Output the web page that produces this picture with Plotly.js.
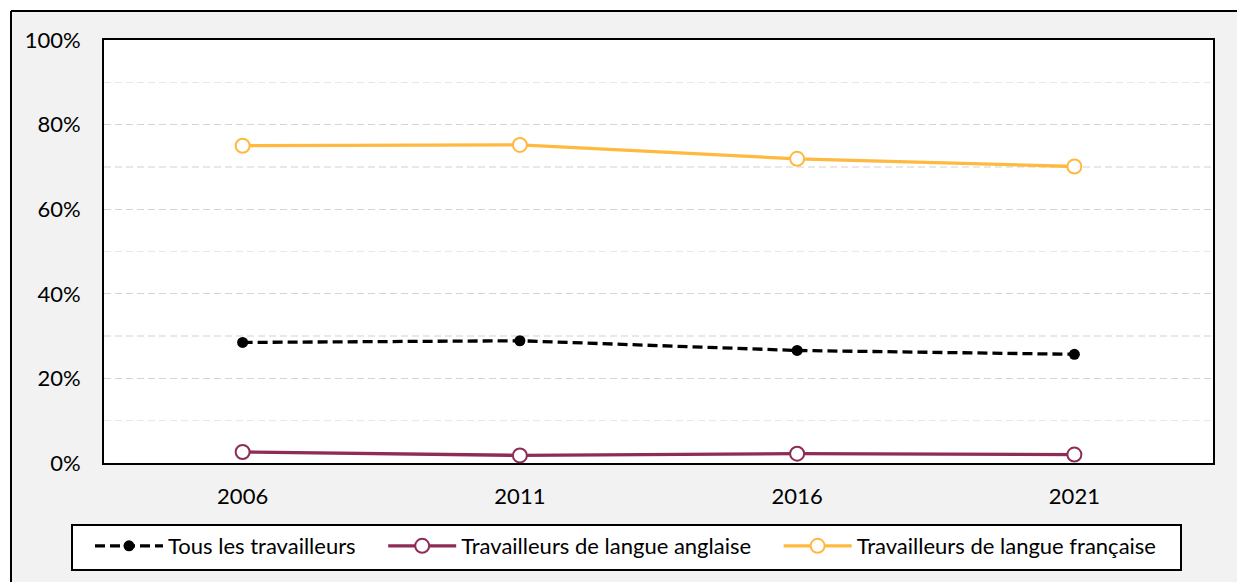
<!DOCTYPE html>
<html>
<head>
<meta charset="utf-8">
<script src="https://cdn.plot.ly/plotly-3.0.1.min.js"></script>
<style>html,body{margin:0;padding:0;background:#fff;}#chart{width:1237px;height:582px;}</style>
</head>
<body>
<div id="chart"></div>
<script>
const years = ['2006', '2011', '2016', '2021'];
const tousLesTravailleurs = [28.5, 28.9, 26.6, 25.7];
const langueAnglaise = [2.6, 1.8, 2.2, 2.0];
const langueFrancaise = [75.0, 75.2, 71.9, 70.1];
const yTicks = [0, 20, 40, 60, 80, 100];
const yTickText = yTicks.map(v => v + '%');
const seriesNames = ['Tous les travailleurs', 'Travailleurs de langue anglaise', 'Travailleurs de langue française'];

const FONT = 'Lato, "Open Sans", sans-serif';
const PAD = '\u00a0\u00a0\u00a0\u00a0';

const traces = [
  {
    x: years, y: tousLesTravailleurs, name: seriesNames[0] + PAD,
    type: 'scatter', mode: 'lines+markers',
    line: {color: '#000000', width: 3.3, dash: '10px,5px'},
    marker: {color: '#000000', size: 11, symbol: 'circle'}
  },
  {
    x: years, y: langueAnglaise, name: seriesNames[1] + PAD,
    type: 'scatter', mode: 'lines+markers',
    line: {color: '#8e2c57', width: 3.3},
    marker: {color: '#ffffff', size: 14, symbol: 'circle', line: {color: '#8e2c57', width: 2}}
  },
  {
    x: years, y: langueFrancaise, name: seriesNames[2],
    type: 'scatter', mode: 'lines+markers',
    line: {color: '#ffb940', width: 3.3},
    marker: {color: '#ffffff', size: 14, symbol: 'circle', line: {color: '#ffb940', width: 2}}
  }
];

const W = 1109, H = 423, L = 104, T = 40;
const px = v => (v - L) / W;
const py = v => (T + H - v) / H;

const layout = {
  width: 1237, height: 582,
  margin: {l: 104, r: 24, t: 40, b: 119},
  paper_bgcolor: '#f2f2f2',
  plot_bgcolor: '#ffffff',
  font: {family: FONT, size: 22, color: '#000000'},
  showlegend: true,
  xaxis: {
    type: 'category', range: [-0.5, 3.5],
    showline: true, linecolor: '#000000', linewidth: 2, mirror: true,
    showgrid: false, zeroline: false, ticks: '',
    ticklabelstandoff: 13,
    tickfont: {family: FONT, size: 22, color: '#000000'}
  },
  yaxis: {
    range: [0, 100], tickvals: yTicks, ticktext: yTickText,
    showline: true, linecolor: '#000000', linewidth: 2, mirror: true,
    showgrid: true, gridcolor: '#d4d4d4', gridwidth: 1.3, griddash: '7px,4px',
    zeroline: false, ticks: '',
    ticklabelstandoff: 17,
    tickfont: {family: FONT, size: 22, color: '#000000'},
    minor: {tickvals: [10, 30, 50, 70, 90], showgrid: true, gridcolor: '#e8e8e8', gridwidth: 1.3, griddash: '7px,4px'}
  },
  legend: {
    orientation: 'h', x: px(90), xanchor: 'left', y: py(525), yanchor: 'top',
    bgcolor: 'rgba(0,0,0,0)', borderwidth: 0,
    font: {family: FONT, size: 22, color: '#000000'},
    itemwidth: 68,
    traceorder: 'normal'
  },
  shapes: [
    {type: 'rect', xref: 'paper', yref: 'paper', layer: 'below',
     x0: px(72), x1: px(1181), y0: py(570), y1: py(525),
     fillcolor: '#ffffff', line: {color: '#000000', width: 2}},
    {type: 'rect', xref: 'paper', yref: 'paper', layer: 'above',
     x0: px(-20), x1: px(1260), y0: py(11), y1: py(-20),
     fillcolor: '#ffffff', line: {width: 0}},
    {type: 'rect', xref: 'paper', yref: 'paper', layer: 'above',
     x0: px(-20), x1: px(11), y0: py(600), y1: py(-20),
     fillcolor: '#ffffff', line: {width: 0}},
    {type: 'line', xref: 'paper', yref: 'paper', layer: 'above',
     x0: px(11), x1: px(1260), y0: py(11), y1: py(11),
     line: {color: '#000000', width: 2}},
    {type: 'line', xref: 'paper', yref: 'paper', layer: 'above',
     x0: px(11), x1: px(11), y0: py(11), y1: py(600),
     line: {color: '#000000', width: 2}}
  ]
};

Plotly.newPlot('chart', traces, layout, {displayModeBar: false, staticPlot: true});
</script>
</body>
</html>
